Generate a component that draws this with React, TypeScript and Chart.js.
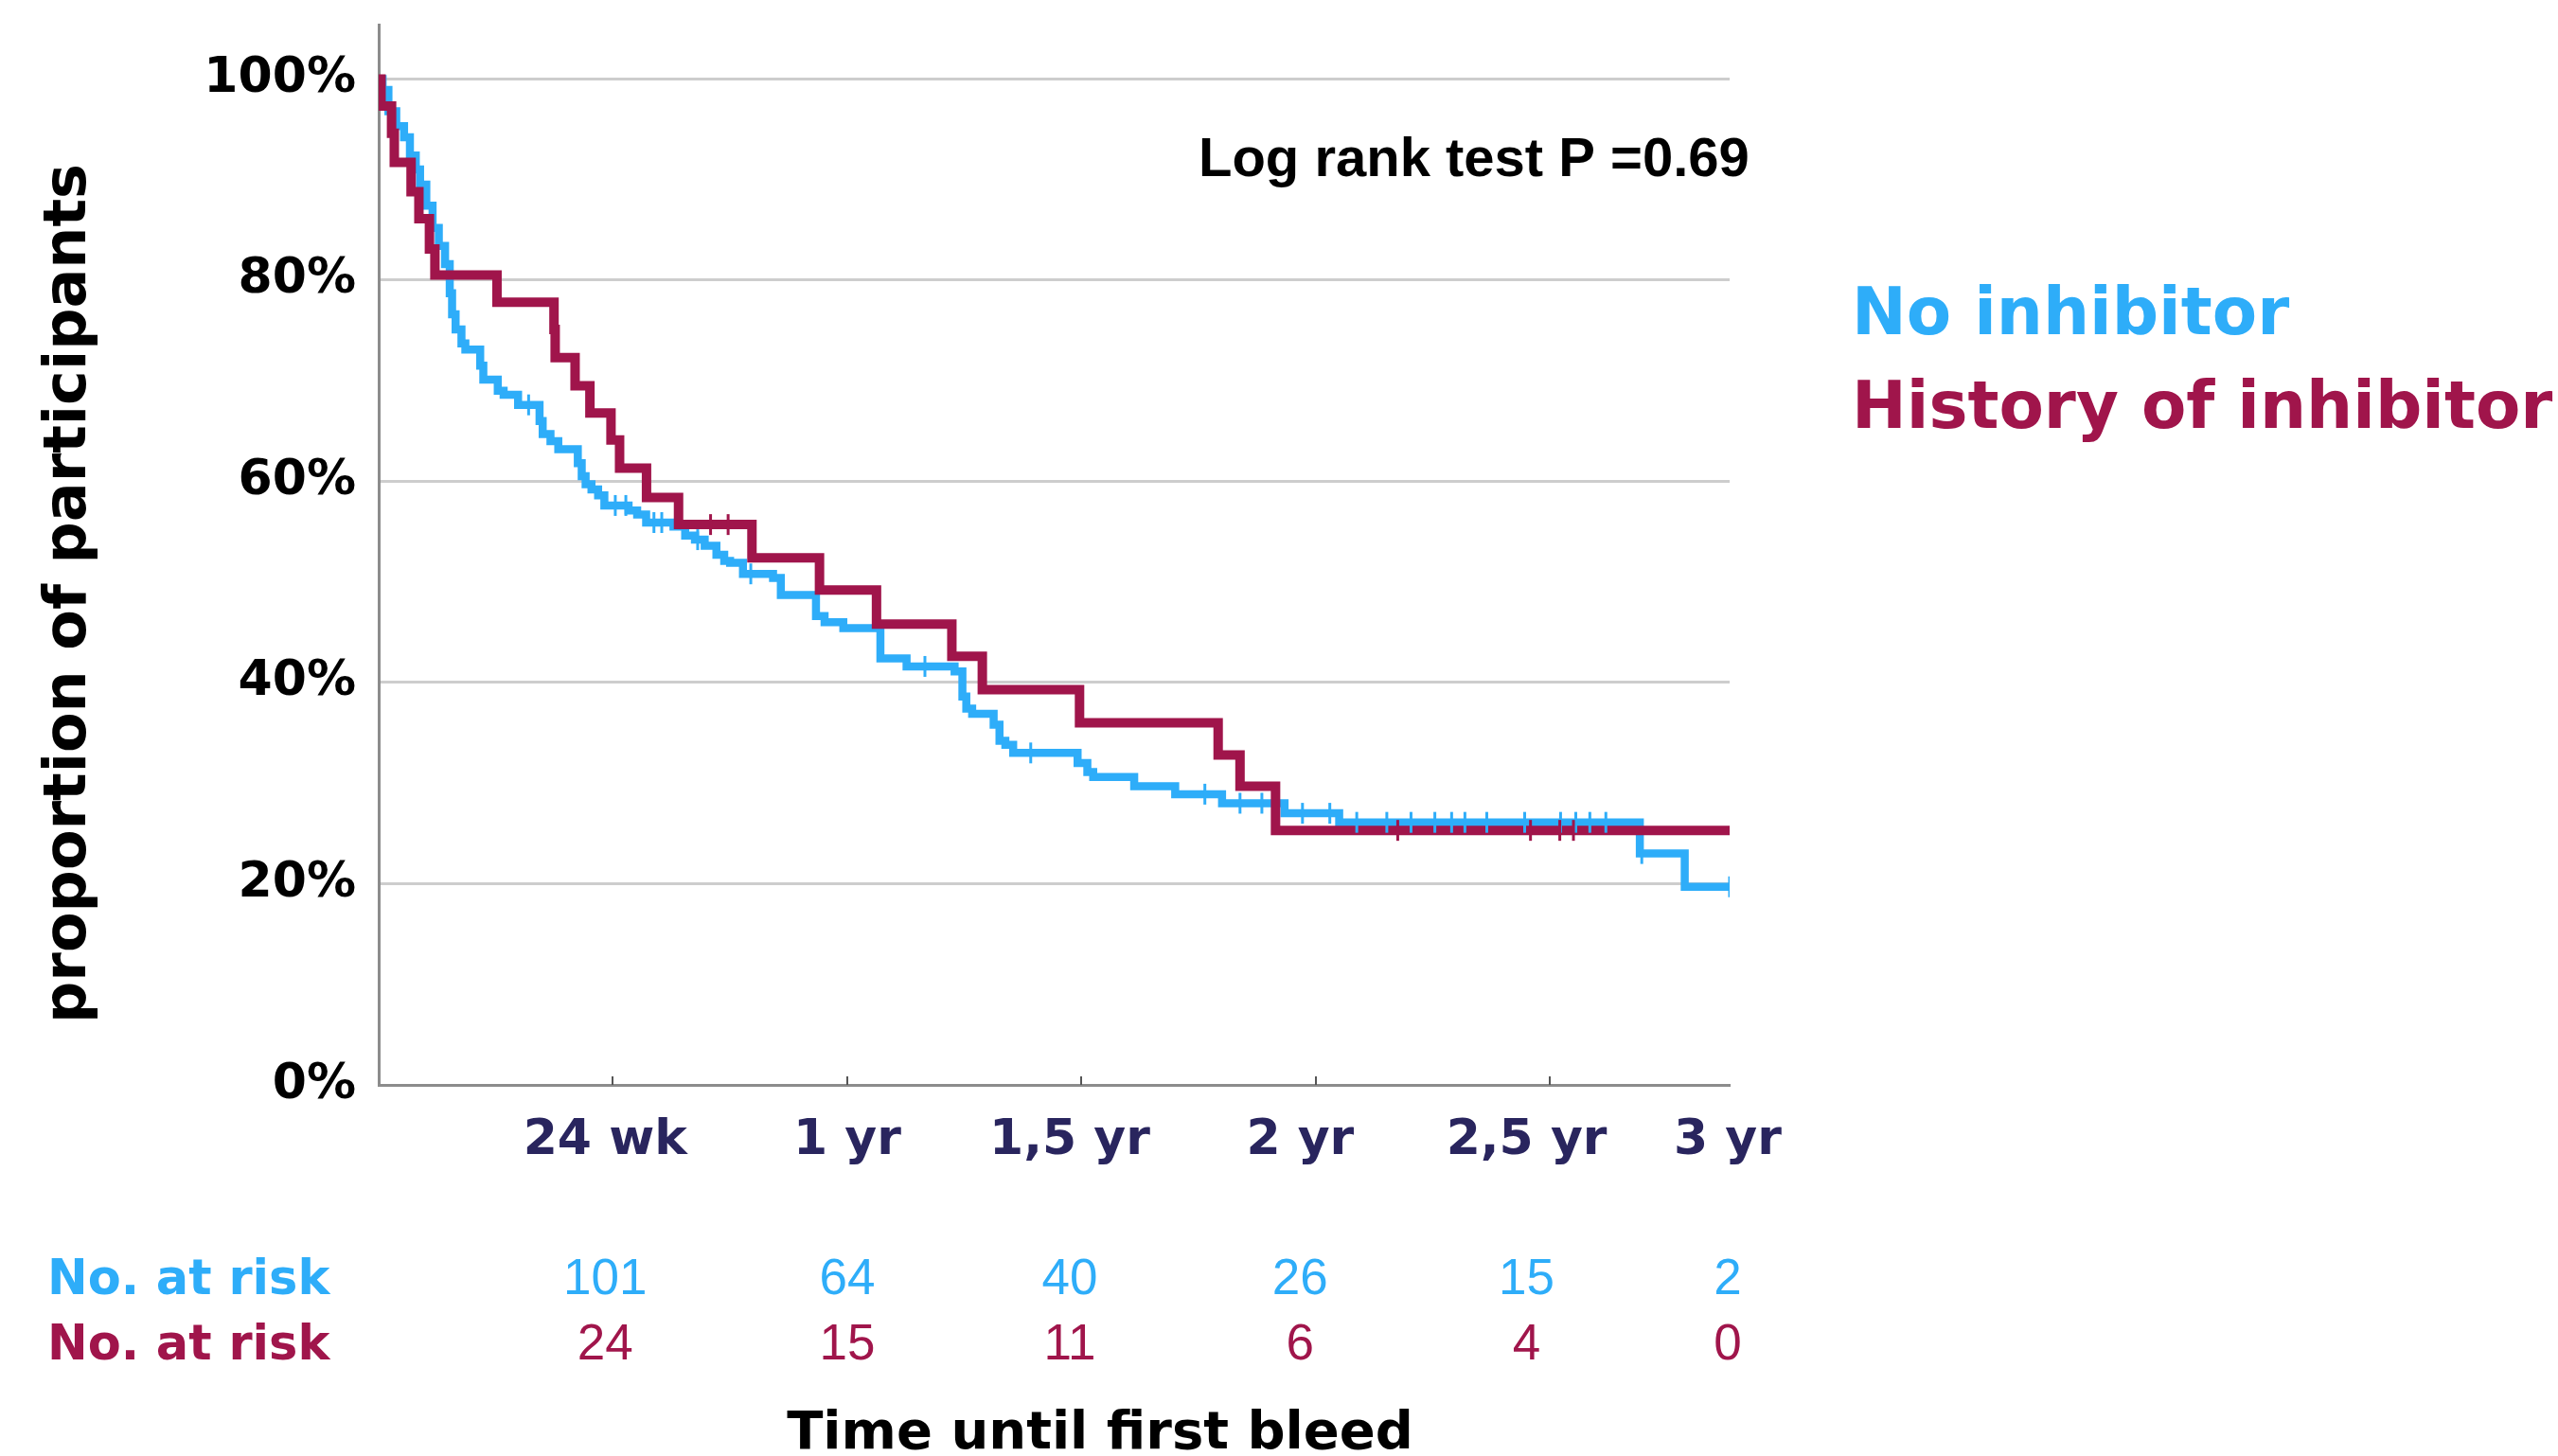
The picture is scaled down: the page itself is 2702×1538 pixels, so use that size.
import { useEffect, useRef } from "react";
import { Chart, registerables } from "chart.js";

Chart.register(...registerables);

const W = 2702;
const H = 1538;

// ---- axes ----
const X_MAX = 34.6; // months, axis end (labelled "3 yr")
const Y_MAX = 105.4; // percent, top of y axis line
const X_TICK_MARKS = [6, 12, 18, 24, 30]; // small inward tick marks (months)
const X_LABEL_AT = [5.8, 12, 17.7, 23.6, 29.4, 34.55]; // where the labels / at-risk numbers sit
const X_TICK_LABELS = ["24 wk", "1 yr", "1,5 yr", "2 yr", "2,5 yr", "3 yr"];
const Y_TICK_VALUES = [0, 20, 40, 60, 80, 100];

// ---- series ----
const SERIES_LABELS = ["No inhibitor", "History of inhibitor"];
const SERIES_COLORS = ["#2EADF9", "#A0154B"];

// Kaplan-Meier steps: [month of event, proportion (%) after the event]
const NO_INHIBITOR_CURVE: [number, number][] = [
  [0, 100], [0.1, 98.9], [0.25, 96.8], [0.45, 95.3], [0.65, 94.2], [0.8, 92.4],
  [0.95, 91.0], [1.06, 89.5], [1.22, 87.4], [1.38, 85.2], [1.54, 83.4], [1.7, 81.6],
  [1.82, 78.7], [1.88, 76.6], [1.97, 75.1], [2.12, 73.7], [2.22, 73.1], [2.6, 71.5],
  [2.68, 70.1], [3.05, 69.0], [3.2, 68.6], [3.57, 67.6], [4.12, 66.0], [4.2, 64.7],
  [4.4, 64.0], [4.6, 63.2], [5.1, 61.8], [5.2, 60.5], [5.3, 59.7], [5.45, 59.2],
  [5.62, 58.6], [5.78, 57.6], [6.4, 57.1], [6.62, 56.7], [6.85, 55.9], [7.55, 55.5],
  [7.85, 54.6], [8.1, 54.2], [8.35, 53.6], [8.65, 52.7], [8.85, 52.1], [9.0, 51.9],
  [9.33, 50.8], [10.1, 50.4], [10.3, 48.7], [11.2, 46.6], [11.42, 46.0], [11.9, 45.4],
  [12.85, 42.4], [13.52, 41.6], [14.75, 41.1], [14.95, 38.6], [15.05, 37.4], [15.2, 36.9],
  [15.75, 35.8], [15.9, 34.2], [16.05, 33.8], [16.25, 33.0], [17.9, 32.0], [18.15, 31.1],
  [18.3, 30.6], [19.35, 29.7], [20.4, 28.9], [21.6, 28.0], [23.2, 27.0], [24.6, 26.1],
  [32.3, 23.0], [33.45, 19.7], [34.6, 19.7],
];

const HISTORY_CURVE: [number, number][] = [
  [0, 100], [0.06, 97.3], [0.33, 94.6], [0.4, 91.7], [0.83, 88.8], [1.03, 86.1],
  [1.3, 83.1], [1.44, 80.5], [3.03, 77.8], [4.49, 75.1], [4.52, 72.3], [5.03, 69.5],
  [5.41, 66.8], [5.95, 64.1], [6.17, 61.3], [6.86, 58.4], [7.68, 55.7], [9.56, 52.4],
  [11.29, 49.2], [12.75, 45.8], [14.68, 42.6], [15.46, 39.3], [17.95, 36.0], [21.5, 32.8],
  [22.06, 29.7], [22.97, 25.3], [34.6, 25.3],
];

// censored observations (tick marks)
const NO_INHIBITOR_CENSORED: [number, number][] = [
  [3.84, 67.6], [6.06, 57.6], [6.33, 57.6], [7.05, 55.9], [7.25, 55.9], [8.17, 54.2],
  [9.53, 50.8], [13.99, 41.6], [16.7, 33.0], [21.16, 28.9], [22.06, 28.0], [22.62, 28.0],
  [23.66, 27.0], [24.36, 27.0], [25.05, 26.1], [25.82, 26.1], [26.44, 26.1], [27.05, 26.1],
  [27.48, 26.1], [27.82, 26.1], [28.38, 26.1], [29.35, 26.1], [30.27, 26.1], [30.66, 26.1],
  [31.02, 26.1], [31.43, 26.1], [32.35, 23.0], [34.6, 19.7],
];

const HISTORY_CENSORED: [number, number][] = [
  [8.5, 55.7], [8.95, 55.7], [26.1, 25.3], [29.5, 25.3], [30.25, 25.3], [30.6, 25.3],
];

// numbers at risk at each labelled time
const AT_RISK_NO_INHIBITOR = [101, 64, 40, 26, 15, 2];
const AT_RISK_HISTORY = [24, 15, 11, 6, 4, 0];

const Y_TITLE = "proportion of participants";
const X_TITLE = "Time until first bleed";
const AT_RISK_LABEL = "No. at risk";
const LOG_RANK_TEXT = "Log rank test P =0.69";

const WIDE = '"DejaVu Sans", sans-serif';
const ARIAL = '"Liberation Sans", Arial, sans-serif';

const toXY = (arr: [number, number][]) => arr.map(([x, y]) => ({ x, y }));

const textPlugin = {
  id: "kmTexts",
  afterDraw(chart: any) {
    const ctx = chart.ctx as CanvasRenderingContext2D;
    const xs = chart.scales.x;
    const area = chart.chartArea;
    ctx.save();

    // inward tick marks on the x axis
    ctx.strokeStyle = "#555555";
    ctx.lineWidth = 2;
    X_TICK_MARKS.forEach((v) => {
      const px = Math.round(xs.getPixelForValue(v));
      ctx.beginPath();
      ctx.moveTo(px, area.bottom);
      ctx.lineTo(px, area.bottom - 9);
      ctx.stroke();
    });

    // y axis title
    ctx.save();
    ctx.fillStyle = "#000000";
    ctx.font = `bold 62px ${WIDE}`;
    ctx.textAlign = "center";
    ctx.textBaseline = "alphabetic";
    ctx.translate(90, 627);
    ctx.rotate(-Math.PI / 2);
    ctx.fillText(Y_TITLE, 0, 0);
    ctx.restore();

    // x axis title
    ctx.fillStyle = "#000000";
    ctx.font = `bold 56px ${WIDE}`;
    ctx.textAlign = "center";
    ctx.textBaseline = "alphabetic";
    ctx.fillText(X_TITLE, 1162, 1530);

    // log rank
    ctx.font = `bold 58px ${ARIAL}`;
    ctx.textAlign = "left";
    ctx.fillText(LOG_RANK_TEXT, 1266, 186);

    // legend
    ctx.font = `bold 69px ${WIDE}`;
    SERIES_LABELS.forEach((lab, i) => {
      ctx.fillStyle = SERIES_COLORS[i];
      ctx.fillText(lab, 1956, 353 + i * 99);
    });

    // numbers at risk
    const rows = [AT_RISK_NO_INHIBITOR, AT_RISK_HISTORY];
    rows.forEach((row, i) => {
      const base = 1367 + i * 69;
      ctx.fillStyle = SERIES_COLORS[i];
      ctx.textAlign = "left";
      ctx.font = `bold 51px ${WIDE}`;
      ctx.fillText(AT_RISK_LABEL, 50, base);
      ctx.textAlign = "center";
      ctx.font = `53px ${ARIAL}`;
      row.forEach((n, j) => {
        ctx.fillText(String(n), xs.getPixelForValue(X_LABEL_AT[j]), base);
      });
    });

    ctx.restore();
  },
};

export default function App() {
  const ref = useRef<HTMLCanvasElement | null>(null);

  useEffect(() => {
    if (!ref.current) return;
    const censorStyle = (color: string, order: number) => ({
      showLine: false,
      pointStyle: "line",
      pointRotation: 90,
      pointRadius: 11,
      pointHoverRadius: 11,
      pointBorderWidth: 3,
      pointBorderColor: color,
      pointBackgroundColor: color,
      borderColor: color,
      order,
    });
    const chart = new Chart(ref.current, {
      type: "line",
      data: {
        datasets: [
          { label: SERIES_LABELS[1] + " (censored)", data: toXY(HISTORY_CENSORED), ...censorStyle(SERIES_COLORS[1], 0) } as any,
          { label: SERIES_LABELS[0] + " (censored)", data: toXY(NO_INHIBITOR_CENSORED), ...censorStyle(SERIES_COLORS[0], 1) } as any,
          {
            label: SERIES_LABELS[1],
            data: toXY(HISTORY_CURVE),
            stepped: "before",
            borderColor: SERIES_COLORS[1],
            borderWidth: 10,
            pointRadius: 0,
            fill: false,
            borderCapStyle: "butt",
            borderJoinStyle: "miter",
            order: 2,
          },
          {
            label: SERIES_LABELS[0],
            data: toXY(NO_INHIBITOR_CURVE),
            stepped: "before",
            borderColor: SERIES_COLORS[0],
            borderWidth: 8.5,
            pointRadius: 0,
            fill: false,
            borderCapStyle: "butt",
            borderJoinStyle: "miter",
            order: 3,
          },
        ],
      },
      options: {
        animation: false,
        responsive: false,
        devicePixelRatio: 1,
        events: [],
        layout: { padding: { left: 0, top: 26, right: W - 1827, bottom: 0 } },
        plugins: {
          legend: { display: false },
          tooltip: { enabled: false },
          title: { display: false },
        },
        scales: {
          x: {
            type: "linear",
            min: 0,
            max: X_MAX,
            afterBuildTicks: (s: any) => {
              s.ticks = X_LABEL_AT.map((v) => ({ value: v }));
            },
            afterFit: (s: any) => {
              s.height = H - 1146;
              s.paddingLeft = 0;
              s.paddingRight = 0;
            },
            ticks: {
              autoSkip: false,
              maxRotation: 0,
              minRotation: 0,
              padding: 28,
              color: "#29255E",
              font: { family: WIDE, size: 52, weight: "bold" },
              callback: (_v: any, i: number) => X_TICK_LABELS[i],
            },
            grid: { display: false, drawTicks: false },
            border: { display: true, color: "#8C8C8C", width: 3 },
          },
          y: {
            type: "linear",
            min: 0,
            max: Y_MAX,
            afterBuildTicks: (s: any) => {
              s.ticks = Y_TICK_VALUES.map((v) => ({ value: v }));
            },
            afterFit: (s: any) => {
              s.width = 400;
              s.paddingTop = 0;
              s.paddingBottom = 0;
            },
            ticks: {
              padding: 24,
              color: "#000000",
              font: { family: WIDE, size: 52, weight: "bold" },
              callback: (v: any) => `${v}%`,
            },
            grid: { color: "#CDCDCD", lineWidth: 3, drawTicks: false },
            border: { display: true, color: "#8C8C8C", width: 3 },
          },
        },
      } as any,
      plugins: [textPlugin],
    });
    return () => chart.destroy();
  }, []);

  return (
    <div style={{ position: "absolute", left: 0, top: 0, width: W, height: H, background: "#ffffff" }}>
      <canvas ref={ref} width={W} height={H} style={{ display: "block", width: W, height: H }} />
    </div>
  );
}
